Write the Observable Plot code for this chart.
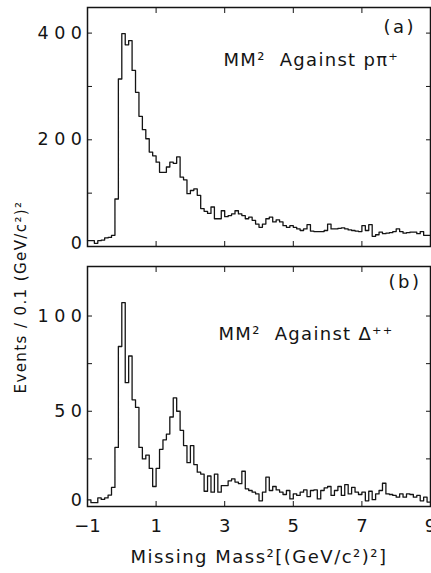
<!DOCTYPE html>
<html>
<head>
<meta charset="utf-8">
<script src="https://cdn.jsdelivr.net/npm/d3@7"></script>
<script src="https://cdn.jsdelivr.net/npm/@observablehq/plot@0.6"></script>
<style>
  body { margin: 0; background: #fff; }
  #wrap { position: relative; width: 431px; height: 573px; overflow: hidden; background: #fff; color: #111;
          font-family: "DejaVu Sans", sans-serif; }
  #pa { position: absolute; left: 0; top: 0; }
  #pb { position: absolute; left: 0; top: 250px; }
  #wrap svg { overflow: visible; }
  #ytitle { position: absolute; left: 21px; top: 297px; transform: translate(-50%, -50%) rotate(-90deg);
            white-space: nowrap; font-size: 15px; letter-spacing: 1.4px; }
  #wrap g[aria-label="y-axis tick label"] { letter-spacing: 5.5px; }
</style>
</head>
<body>
<div id="wrap">
  <div id="pa"></div>
  <div id="pb"></div>
  <div id="ytitle">Events / 0.1 (GeV/c²)²</div>
</div>
<script>
// ---- data ----
const binStart = -1;      // first bin edge, (GeV/c^2)^2
const binWidth = 0.1;     // bin width, (GeV/c^2)^2

// (a) MM^2 against p pi+  : events per 0.1 bin, from -1.0 to 9.0
const countsA = [
  11, 11, 6, 11, 12, 16, 17, 21, 89, 314,
  399, 378, 386, 330, 289, 244, 219, 202, 177, 170,
  158, 139, 139, 149, 158, 156, 168, 130, 125, 99,
  105, 108, 96, 71, 66, 62, 74, 52, 52, 67,
  56, 58, 61, 67, 61, 58, 52, 55, 49, 42,
  36, 42, 52, 55, 46, 50, 46, 39, 36, 39,
  36, 33, 30, 33, 41, 29, 28, 28, 28, 30,
  42, 33, 33, 34, 35, 33, 31, 30, 29, 28,
  39, 30, 41, 19, 22, 27, 24, 25, 26, 28,
  33, 28, 25, 26, 27, 27, 24, 28, 21, 21
];

// (b) MM^2 against Delta++ : events per 0.1 bin, from -1.0 to 9.0
const countsB = [
  3.5, 2, 2, 4.5, 3.7, 4.5, 6, 10, 31, 84,
  107, 65, 79, 56, 52, 31, 25, 27, 20, 10.5,
  20, 30, 35, 38, 47, 57, 50, 40, 32, 23,
  32, 22, 18, 17, 8, 16, 7.5, 17, 7.5, 11,
  11, 13.5, 14.5, 12.8, 12, 18.5, 9.3, 8.4, 7.5, 6.6,
  3, 7.5, 15.4, 8.4, 10.5, 8.7, 7.5, 6.3, 8.4, 4,
  6.6, 5.8, 7.5, 8.7, 5.2, 8.4, 8.7, 4, 8.4, 9.8,
  10.5, 5.8, 8.4, 10.5, 5.8, 11.5, 6.6, 10, 7.5, 6.3,
  7.5, 3, 8, 3.6, 6.6, 8.4, 12.2, 6.6, 6.3, 5.8,
  4.9, 6.6, 4.9, 6.6, 6.3, 4.9, 5.8, 3, 4.9, 2.3
];

const xDomain = [-1, 9];
const xMinorTicks = [1, 3, 5, 7];
const xTickLabels = [-1, 1, 3, 5, 7, 9];
const yDomainA = [0, 448];
const yTicksA = [100, 200, 300, 400];
const yLabelsA = [200, 400];
const yDomainB = [0, 126];
const yTicksB = [25, 50, 75, 100];
const yLabelsB = [50, 100];
const yZero = [0];
const tagA = "(a)", titleA = "MM²  Against pπ⁺";
const tagB = "(b)", titleB = "MM²  Against Δ⁺⁺";
const xTitle = "Missing Mass²[(GeV/c²)²]";

// ---- helpers ----
function stepPoints(counts) {
  const pts = counts.map((c, i) => ({x: binStart + i * binWidth, y: c}));
  pts.push({x: binStart + counts.length * binWidth, y: counts[counts.length - 1]});
  return pts;
}

const ink = "#141414";
const font = '"DejaVu Sans", sans-serif';
const spacing = new Map([[tagA, 2.5], [tagB, 2.5], [titleA, 1.3], [titleB, 1.3], [xTitle, 1.5]]);

function panel({counts, yDomain, yTicks, yLabels, tag, title, height, marginTop, marginBottom,
                tagDx, tagDy, titleDx, titleDy, zeroDy, bottomAxis}) {
  const marks = [
    Plot.frame({stroke: ink, strokeWidth: 1.5}),
    Plot.axisY(yTicks, {anchor: "left", tickSize: 5, dx: 5, fill: "none", stroke: ink, label: null}),
    Plot.axisY(yTicks, {anchor: "right", tickSize: 5, dx: -5, fill: "none", stroke: ink, label: null}),
    Plot.axisX(xMinorTicks, {anchor: "bottom", tickSize: 5, dy: -5, fill: "none", stroke: ink, label: null}),
    Plot.axisX(xMinorTicks, {anchor: "top", tickSize: 5, dy: 5, fill: "none", stroke: ink, label: null}),
    Plot.axisY(yLabels, {anchor: "left", tickSize: 0, tickPadding: 0, fill: ink, label: null, fontSize: 17.5}),
    Plot.axisY(yZero, {anchor: "left", tickSize: 0, tickPadding: 0, dy: zeroDy, fill: ink, label: null, fontSize: 17.5}),
    Plot.line(stepPoints(counts), {x: "x", y: "y", curve: "step-after", stroke: ink, strokeWidth: 1.3}),
    Plot.text([tag], {frameAnchor: "top-left", textAnchor: "start", lineAnchor: "middle",
                      dx: tagDx, dy: tagDy, fontSize: 18, fill: ink}),
    Plot.text([title], {frameAnchor: "top-left", textAnchor: "start", lineAnchor: "middle",
                        dx: titleDx, dy: titleDy, fontSize: 18, fill: ink})
  ];
  if (bottomAxis) {
    marks.push(Plot.axisX(xTickLabels, {anchor: "bottom", tickSize: 0, tickPadding: 13, fill: ink,
                                         label: null, fontSize: 18}));
    marks.push(Plot.text([xTitle], {frameAnchor: "bottom", textAnchor: "middle", lineAnchor: "middle",
                                    dy: 51, fontSize: 18, fill: ink}));
  }
  const svg = Plot.plot({
    width: 431, height, marginLeft: 87, marginRight: 1, marginTop, marginBottom,
    x: {domain: xDomain},
    y: {domain: yDomain},
    style: {fontFamily: font, color: ink, background: "transparent", overflow: "visible"},
    marks
  });
  d3.select(svg).selectAll('g[aria-label="text"] text').each(function () {
    const s = spacing.get(this.textContent);
    if (s != null) this.setAttribute("letter-spacing", s);
  });
  return svg;
}

document.getElementById("pa").append(panel({
  counts: countsA, yDomain: yDomainA, yTicks: yTicksA, yLabels: yLabelsA, tag: tagA, title: titleA,
  height: 250, marginTop: 7, marginBottom: 4, tagDx: 296, tagDy: 20, titleDx: 136, titleDy: 53,
  zeroDy: -3, bottomAxis: false
}));
document.getElementById("pb").append(panel({
  counts: countsB, yDomain: yDomainB, yTicks: yTicksB, yLabels: yLabelsB, tag: tagB, title: titleB,
  height: 323, marginTop: 16, marginBottom: 67, tagDx: 301, tagDy: 16, titleDx: 131, titleDy: 68,
  zeroDy: -6, bottomAxis: true
}));
</script>
</body>
</html>
